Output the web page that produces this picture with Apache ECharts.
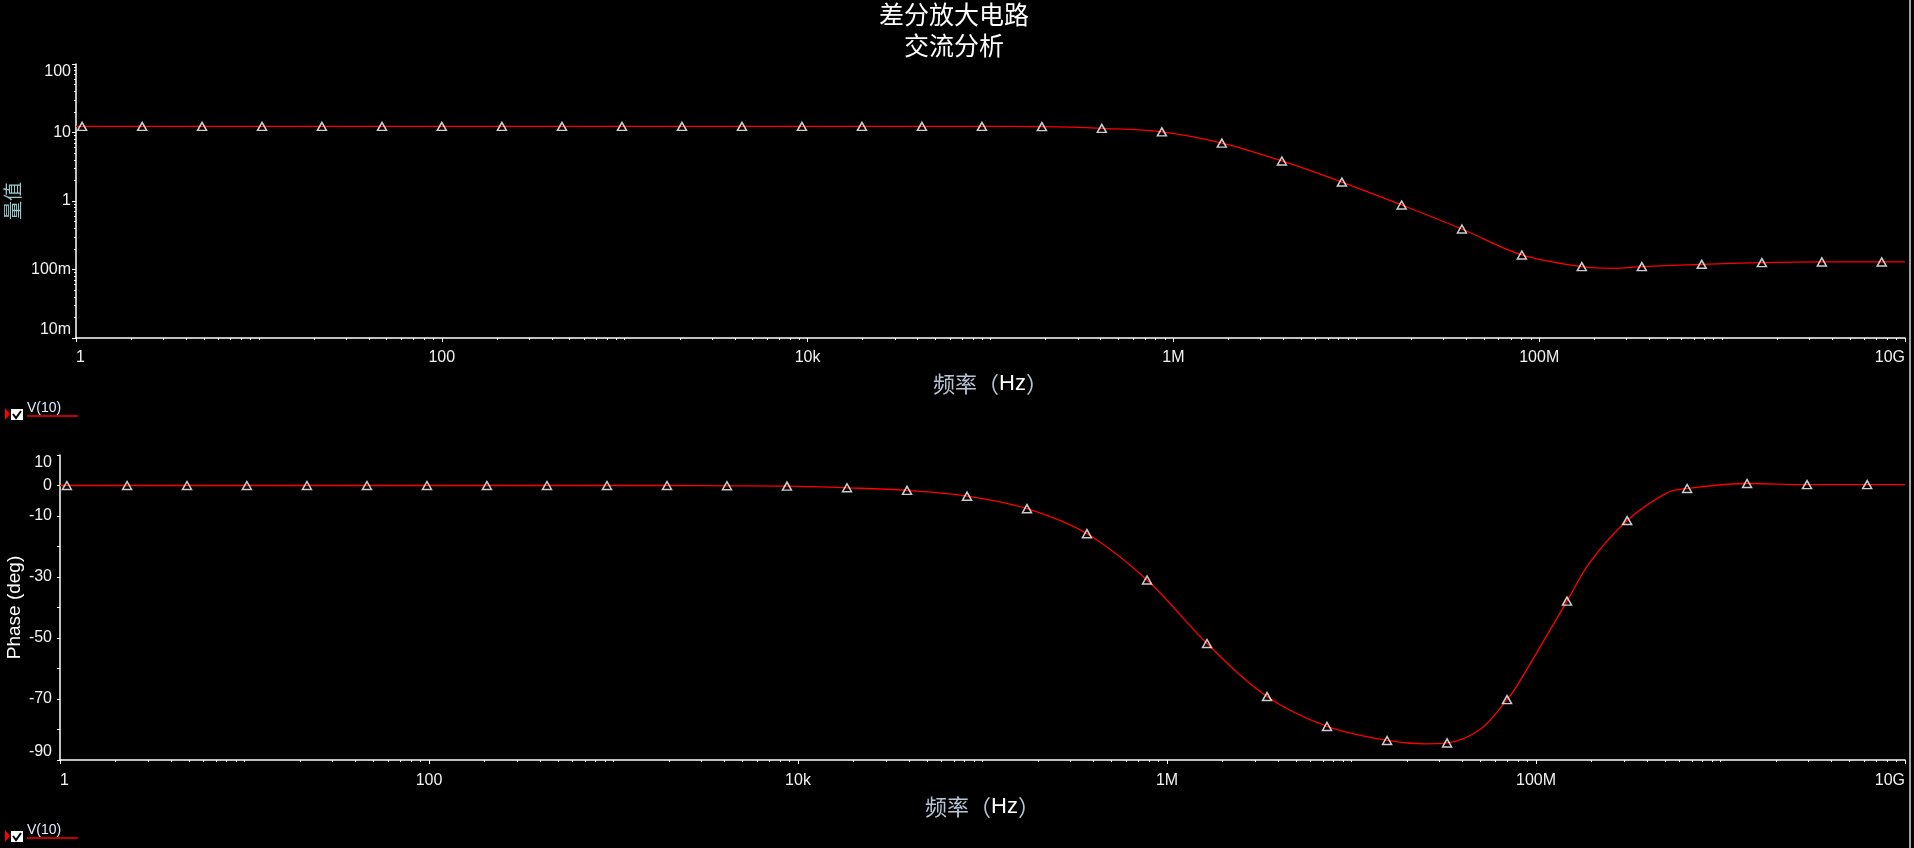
<!DOCTYPE html>
<html><head><meta charset="utf-8">
<script src="https://cdn.jsdelivr.net/npm/echarts@6/dist/echarts.min.js"></script>
<style>html,body{margin:0;padding:0;background:#000;}#c{width:1914px;height:848px;}</style>
</head><body><div id="c"></div>
<script>
// ---- data ----
const titleLines = ['差分放大电路', '交流分析'];
const xTickValues = [1, 100, 1e4, 1e6, 1e8, 1e10];
const xTickLabels = ['1', '100', '10k', '1M', '100M', '10G'];
const magTickValues = [0.01, 0.1, 1, 10, 100];
const magTickLabels = ['10m', '100m', '1', '10', '100'];
const phaseLabelValues = [10, 0, -10, -30, -50, -70, -90];

// magnitude: marker points
const magFreq = [1.08, 2.30, 4.89, 10.4, 22.1, 47.1, 100, 213, 454, 966, 2056, 4375, 9311, 19815, 42170, 89740,
  1.91e5, 4.06e5, 8.65e5, 1.84e6, 3.92e6, 8.34e6, 1.77e7, 3.78e7, 8.04e7, 1.71e8, 3.64e8, 7.74e8, 1.65e9, 3.51e9, 7.46e9];
const magValue = [12.3, 12.3, 12.3, 12.3, 12.3, 12.3, 12.3, 12.3, 12.3, 12.3, 12.3, 12.3, 12.3, 12.3, 12.3, 12.3,
  12.2, 11.5, 10.2, 7.0, 3.84, 1.89, 0.875, 0.39, 0.163, 0.110, 0.110, 0.119, 0.126, 0.129, 0.129];
// magnitude: extra trace points (ends, minimum)
const magExtraFreq = [1, 2.53e8, 1e10];
const magExtraValue = [12.3, 0.104, 0.129];

// phase: marker points
const phaseFreq = [1.09, 2.31, 4.88, 10.3, 21.8, 46.1, 97.5, 206, 436, 922, 1950, 4121, 8714, 18430, 38990, 82430,
  1.742e5, 3.683e5, 7.797e5, 1.648e6, 3.484e6, 7.367e6, 1.559e7, 3.296e7, 6.966e7, 1.472e8, 3.119e8, 6.592e8, 1.393e9, 2.944e9, 6.237e9];
const phaseValue = [0, 0, 0, 0, 0, 0, 0, 0, 0, 0, 0, -0.1, -0.2, -0.75, -1.6, -3.5,
  -7.6, -15.8, -31, -51.8, -69.2, -79, -83.6, -84.4, -70.2, -37.9, -11.5, -1, 0.65, 0.3, 0.3];
// phase: extra trace points
const phaseExtraFreq = [1, 2.5e7, 4.97e7, 7.98e7, 1.96e8, 5.13e8, 1e10];
const phaseExtraValue = [0, -84.7, -80, -65.2, -25.2, -2.4, 0.3];

const seriesName = 'V(10)';

// ---- helpers ----
function pairs(xs, ys) { return xs.map((x, i) => [x, ys[i]]); }
function merged(xs, ys, ex, ey) { return pairs(xs, ys).concat(pairs(ex, ey)).sort((a, b) => a[0] - b[0]); }
function minorLog(lo, hi, majors) {
  const out = [];
  for (let d = lo; d < hi; d++) {
    for (let k = 1; k <= 9; k++) {
      const v = +(k * Math.pow(10, d)).toPrecision(6);
      if (majors.indexOf(v) < 0) out.push(v);
    }
  }
  return out;
}
const xMinor = minorLog(0, 10, xTickValues);
const magMinor = minorLog(-2, 2, magTickValues);

const FONT = "'Liberation Sans', Arial, sans-serif";
const CJK = "'Noto Sans CJK SC', sans-serif";
const WHITE = '#f2f2f2';
const AX = { lineStyle: { color: '#ffffff', width: 1.5 }, onZero: false };

function xMain(gridIndex, margin, nameGap) {
  return {
    type: 'log', logBase: 10, min: 1, max: 1e10, gridIndex, position: 'bottom',
    axisLine: AX,
    axisTick: { customValues: xTickValues, length: 4, lineStyle: { color: '#fff', width: 1 } },
    axisLabel: {
      customValues: xTickValues, margin, color: WHITE, fontSize: 16, fontFamily: FONT,
      alignMinLabel: 'left', alignMaxLabel: 'right',
      formatter: v => { const i = xTickValues.findIndex(t => Math.abs(Math.log10(t) - Math.log10(v)) < 1e-6); return i >= 0 ? xTickLabels[i] : ''; }
    },
    splitLine: { show: false }, minorTick: { show: false },
    name: '{c|频率（}{l|Hz}{c|）}', nameLocation: 'middle', nameGap,
    nameTextStyle: { rich: {
      c: { color: '#b9c4d4', fontSize: 22, fontFamily: CJK },
      l: { color: '#ffffff', fontSize: 22, fontFamily: FONT }
    } }
  };
}
function xMinorAxis(gridIndex) {
  return {
    type: 'log', logBase: 10, min: 1, max: 1e10, gridIndex, position: 'bottom',
    axisLine: { show: false, onZero: false },
    axisTick: { customValues: xMinor, length: 2, lineStyle: { color: '#fff', width: 1 } },
    axisLabel: { show: false }, splitLine: { show: false }
  };
}

const option = {
  backgroundColor: '#000000',
  animation: false,
  title: {
    text: titleLines.join('\n'), left: 954, top: -1, textAlign: 'center', padding: 0,
    textStyle: { color: '#ffffff', fontSize: 25, fontWeight: 'normal', fontFamily: CJK, lineHeight: 31 }
  },
  grid: [
    { left: 76, top: 64, width: 1829, height: 274, outerBoundsMode: 'none', containLabel: false },
    { left: 60, top: 455, width: 1845, height: 305, outerBoundsMode: 'none', containLabel: false }
  ],
  xAxis: [xMain(0, 12, 35), xMinorAxis(0), xMain(1, 13, 36), xMinorAxis(1)],
  yAxis: [
    {
      type: 'log', logBase: 10, min: 0.01, max: 100, gridIndex: 0, position: 'left',
      axisLine: AX,
      axisTick: { customValues: magTickValues, length: 4, lineStyle: { color: '#fff' } },
      axisLabel: {
        customValues: magTickValues, margin: 5, color: WHITE, fontSize: 16, fontFamily: FONT,
        verticalAlignMinLabel: 'bottom', verticalAlignMaxLabel: 'top',
        formatter: v => { const i = magTickValues.findIndex(t => Math.abs(Math.log10(t) - Math.log10(v)) < 1e-6); return i >= 0 ? magTickLabels[i] : ''; }
      },
      splitLine: { show: false },
      name: '量值', nameLocation: 'middle', nameGap: 54, nameMoveOverlap: false,
      nameTextStyle: { color: '#9cc8c8', fontSize: 19, fontFamily: CJK }
    },
    {
      type: 'log', logBase: 10, min: 0.01, max: 100, gridIndex: 0, position: 'left',
      axisLine: { show: false, onZero: false },
      axisTick: { customValues: magMinor, length: 2, lineStyle: { color: '#fff' } },
      axisLabel: { show: false }, splitLine: { show: false }
    },
    {
      type: 'value', min: -90, max: 10, interval: 10, gridIndex: 1, position: 'left',
      axisLine: AX,
      axisTick: { length: 3, lineStyle: { color: '#fff' } },
      axisLabel: {
        margin: 8, color: WHITE, fontSize: 16, fontFamily: FONT,
        verticalAlignMinLabel: 'bottom', verticalAlignMaxLabel: 'top',
        formatter: v => phaseLabelValues.indexOf(v) >= 0 ? String(v) : ''
      },
      splitLine: { show: false },
      name: 'Phase (deg)', nameLocation: 'middle', nameGap: 36, nameMoveOverlap: false,
      nameTextStyle: { color: '#ffffff', fontSize: 19, fontFamily: FONT }
    }
  ],
  series: [
    {
      type: 'line', name: seriesName, xAxisIndex: 0, yAxisIndex: 0,
      data: merged(magFreq, magValue, magExtraFreq, magExtraValue),
      showSymbol: false, smooth: 0.35, lineStyle: { color: '#ff0000', width: 1.3 }, z: 2
    },
    {
      type: 'scatter', xAxisIndex: 0, yAxisIndex: 0, data: pairs(magFreq, magValue),
      symbol: 'triangle', symbolSize: [9, 8],
      itemStyle: { color: 'rgba(0,0,0,0)', borderColor: '#ffffff', borderWidth: 1.5 }, z: 3
    },
    {
      type: 'line', name: seriesName, xAxisIndex: 2, yAxisIndex: 2,
      data: merged(phaseFreq, phaseValue, phaseExtraFreq, phaseExtraValue),
      showSymbol: false, smooth: 0.35, lineStyle: { color: '#ff0000', width: 1.3 }, z: 2
    },
    {
      type: 'scatter', xAxisIndex: 2, yAxisIndex: 2, data: pairs(phaseFreq, phaseValue),
      symbol: 'triangle', symbolSize: [9, 8],
      itemStyle: { color: 'rgba(0,0,0,0)', borderColor: '#ffffff', borderWidth: 1.5 }, z: 3
    }
  ],
  graphic: []
};

function legendMark(y) {
  return [
    { type: 'polygon', shape: { points: [[5, y], [10, y + 6], [5, y + 12]] }, style: { fill: '#ff0000' } },
    { type: 'rect', shape: { x: 11, y: y + 1, width: 12, height: 11 }, style: { fill: '#ffffff' } },
    { type: 'polyline', shape: { points: [[13, y + 6], [16, y + 10], [21, y + 3]] }, style: { stroke: '#000', lineWidth: 2, fill: null } },
    { type: 'text', x: 27, y: y - 7, style: { text: seriesName, fill: '#e4ecff', fontSize: 14, fontFamily: FONT } },
    { type: 'line', shape: { x1: 27, y1: y + 8, x2: 78, y2: y + 8 }, style: { stroke: '#ff0000', lineWidth: 1.5 } }
  ];
}
option.graphic = legendMark(408).concat(legendMark(830)).concat([
  { type: 'line', shape: { x1: 1910, y1: 0, x2: 1910, y2: 848 }, style: { stroke: '#a0a0a0', lineWidth: 2 } }
]);

const chart = echarts.init(document.getElementById('c'));
chart.setOption(option);
</script></body></html>
